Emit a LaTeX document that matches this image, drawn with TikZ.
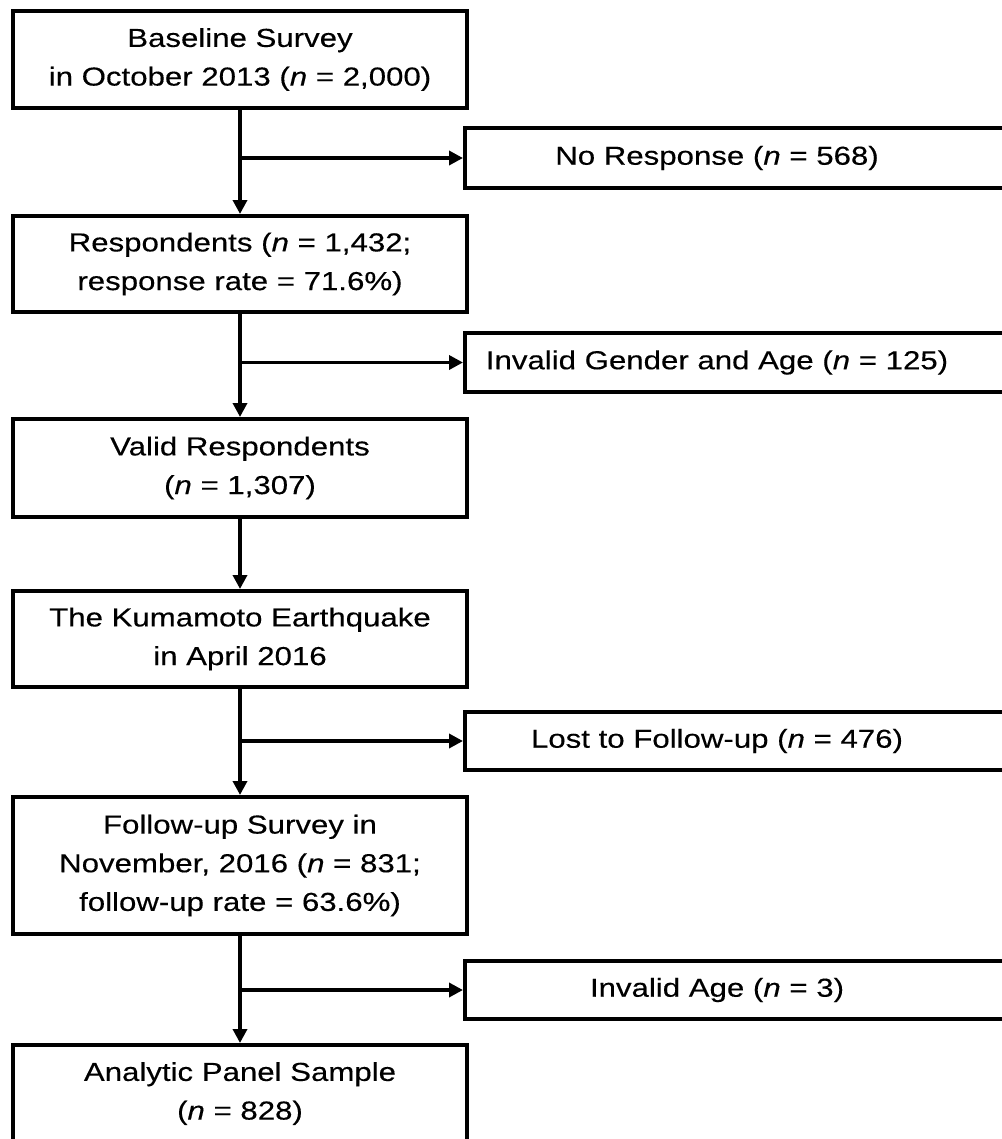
\documentclass[tikz,border=0pt]{standalone}
\usepackage{fontspec}
\setmainfont[FakeStretch=1.2,FakeBold=0.3]{Liberation Sans}
\usetikzlibrary{arrows.meta}
\newcommand\mainfs{\fontsize{19.5pt}{29pt}\selectfont}
\begin{document}
\begin{tikzpicture}[x=0.75pt,y=-0.75pt,
  lbox/.style={draw, line width=3pt, minimum width=340.5pt, inner sep=0pt, align=center, font=\mainfs},
  rbox/.style={minimum width=378pt, inner sep=0pt, outer sep=0pt, align=center, font=\mainfs},
  rline/.style={line width=3pt},
  arr/.style={line width=2.6pt, -{Triangle[length=10.5pt,width=10.5pt]}}]
\path[use as bounding box, clip] (0,0) rectangle (1002,1139);
\fill[white] (0,0) rectangle (1002,1139);

\node[lbox, minimum height=72.75pt] (b1) at (240,59.5) {Baseline Survey\\in October 2013 (\textit{n} = 2,000)};
\node[lbox, minimum height=72pt] (b2) at (240,264) {Respondents (\textit{n} = 1,432;\\response rate = 71.6\%)};
\node[lbox, minimum height=73.5pt] (b3) at (240,468) {Valid Respondents\\(\textit{n} = 1,307)};
\node[lbox, minimum height=72pt] (b4) at (240,639) {The Kumamoto Earthquake\\in April 2016};
\node[lbox, minimum height=102.75pt] (b5) at (240,865.5) {Follow-up Survey in\\November, 2016 (\textit{n} = 831;\\follow-up rate = 63.6\%)};
\node[lbox, minimum height=72.75pt] (b6) at (240,1093.5) {Analytic Panel Sample\\(\textit{n} = 828)};

\node[rbox, minimum height=45pt] (r1) at (717,158) {No Response (\textit{n} = 568)};
\node[rbox, minimum height=44.25pt] (r2) at (717,362.5) {Invalid Gender and Age (\textit{n} = 125)};
\node[rbox, minimum height=43.5pt] (r3) at (717,741) {Lost to Follow-up (\textit{n} = 476)};
\node[rbox, minimum height=43.5pt] (r4) at (717,990) {Invalid Age (\textit{n} = 3)};

\foreach \r in {r1,r2,r3,r4}{
  \draw[rline] ([xshift=60pt]\r.north east) -- (\r.north west) -- (\r.south west) -- ([xshift=60pt]\r.south east);
}

\draw[arr] (b1) -- (b2);
\draw[arr] (b2) -- (b3);
\draw[arr] (b3) -- (b4);
\draw[arr] (b4) -- (b5);
\draw[arr] (b5) -- (b6);

\draw[arr] (b1.south |- r1.west) -- ([xshift=-1.5pt]r1.west);
\draw[arr] (b2.south |- r2.west) -- ([xshift=-1.5pt]r2.west);
\draw[arr] (b4.south |- r3.west) -- ([xshift=-1.5pt]r3.west);
\draw[arr] (b5.south |- r4.west) -- ([xshift=-1.5pt]r4.west);
\end{tikzpicture}
\end{document}
